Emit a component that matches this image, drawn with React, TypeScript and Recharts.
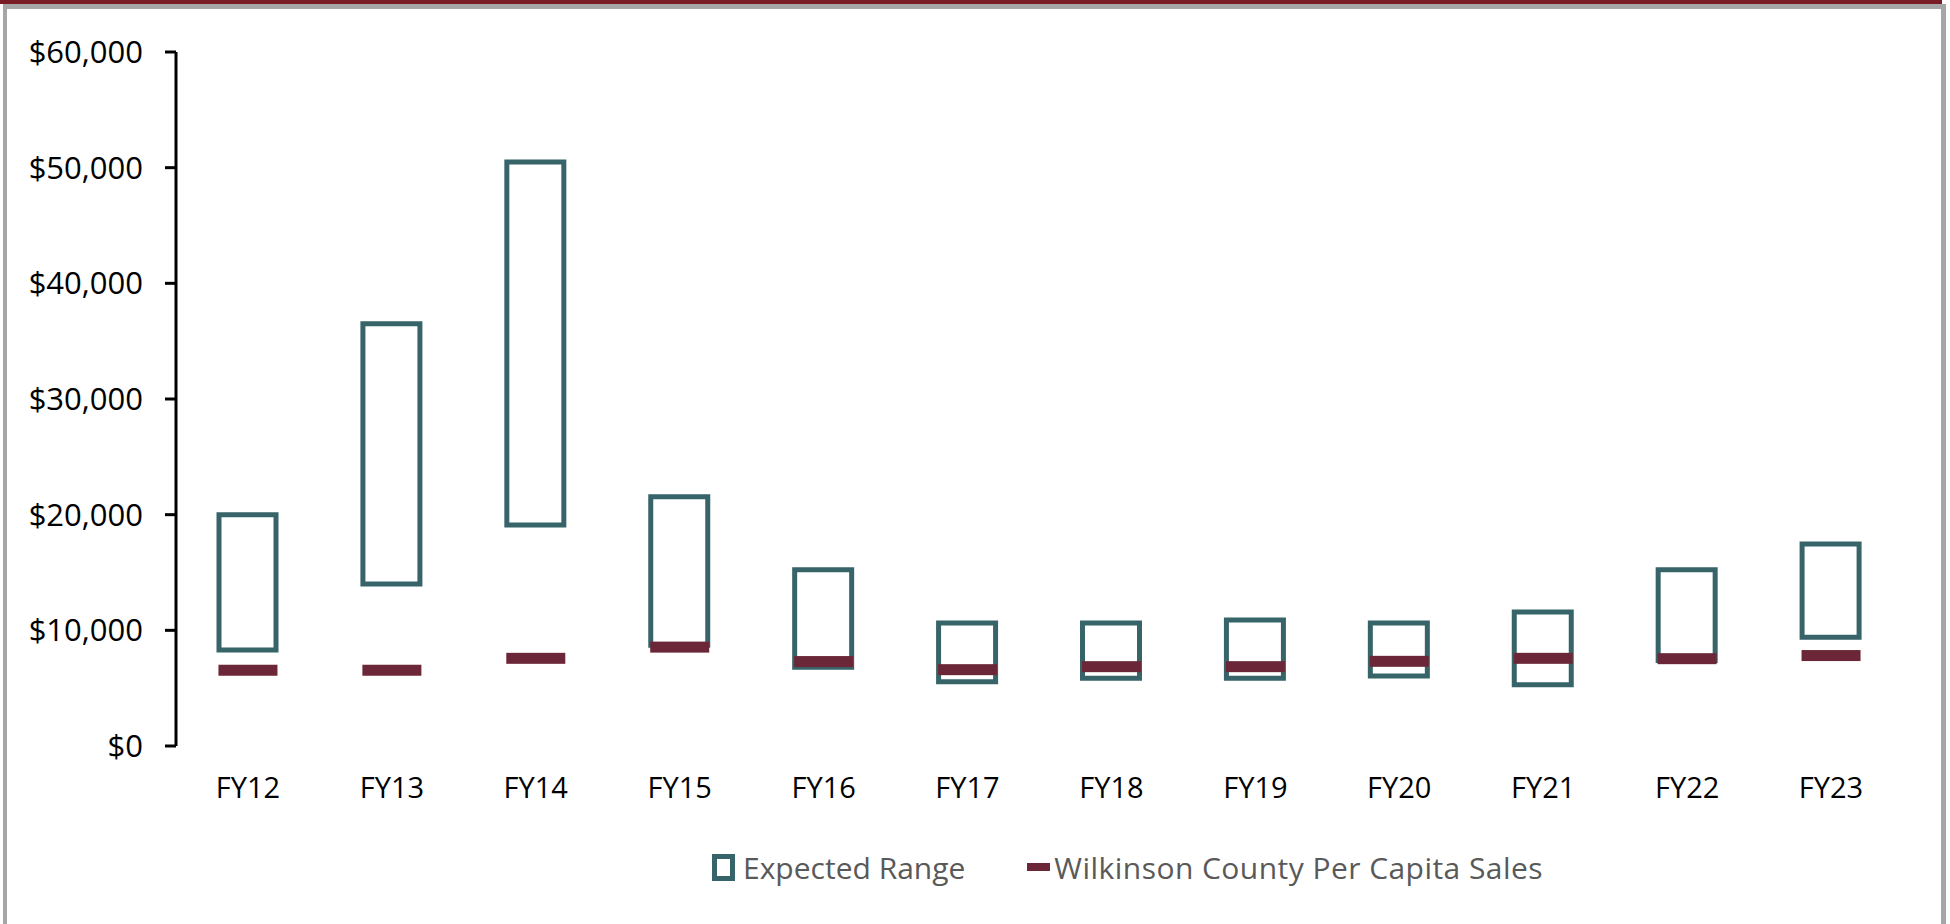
import React from 'react'
import { Bar, ComposedChart, Legend, Scatter, XAxis, YAxis } from 'recharts'

// fiscal years on the x axis
const categories = ['FY12', 'FY13', 'FY14', 'FY15', 'FY16', 'FY17', 'FY18', 'FY19', 'FY20', 'FY21', 'FY22', 'FY23']

// expected range (low / high) per year
const rangeLow = [8300, 14000, 19100, 8700, 6800, 5560, 5850, 5850, 6050, 5300, 7400, 9400]
const rangeHigh = [20000, 36500, 50500, 21550, 15240, 10630, 10630, 10890, 10630, 11580, 15240, 17470]

// county per capita sales
const countySales = [6550, 6550, 7580, 8550, 7300, 6600, 6860, 6860, 7320, 7580, 7550, 7820]

const yTicks = [0, 10000, 20000, 30000, 40000, 50000, 60000]

const rangeName = 'Expected Range'
const countyName = 'Wilkinson County Per Capita Sales'

const TEAL = '#376469'
const MAROON = '#6b2737'
const FONT = '"Open Sans", sans-serif'

const data = categories.map((name, i) => ({
  name,
  range: [rangeLow[i], rangeHigh[i]],
  county: countySales[i],
}))

const Dash = (props: any) => {
  const { cx, cy } = props
  if (cx == null || cy == null) return null
  return <rect x={cx - 29.5} y={cy - 5.5} width={59} height={11} fill={MAROON} />
}

const LegendContent = () => (
  <div
    style={{
      display: 'flex',
      alignItems: 'center',
      height: 40,
      fontFamily: FONT,
      fontSize: 30,
      color: '#595959',
      whiteSpace: 'nowrap',
    }}
  >
    <span
      style={{
        display: 'inline-block',
        width: 13,
        height: 17,
        border: `5px solid ${TEAL}`,
        background: '#fff',
        marginRight: 8,
      }}
    />
    <span style={{ marginRight: 62 }}>{rangeName}</span>
    <span style={{ display: 'inline-block', width: 23, height: 8, background: MAROON, marginRight: 4 }} />
    <span style={{ letterSpacing: 0.45 }}>{countyName}</span>
  </div>
)

const App: React.FC = () => {
  return (
    <div style={{ position: 'absolute', left: 0, top: 0, width: 1950, height: 924, background: '#fff', overflow: 'hidden' }}>
      <div style={{ position: 'absolute', left: 0, top: 0, width: 1942, height: 4, background: '#7a1c28' }} />
      <div
        style={{
          position: 'absolute',
          left: 3,
          top: 4,
          width: 1943,
          height: 930,
          boxSizing: 'border-box',
          borderTop: '5px solid #a6a6a6',
          borderLeft: '4px solid #a6a6a6',
          borderRight: '5px solid #a6a6a6',
        }}
      />
      <div style={{ position: 'absolute', left: 0, top: 0 }}>
        <ComposedChart width={1950} height={924} data={data} margin={{ top: 52, right: 47, left: 6, bottom: 118 }}>
          <XAxis
            dataKey='name'
            height={60}
            axisLine={false}
            tickLine={false}
            tickSize={0}
            tickMargin={31}
            tick={{ fontFamily: FONT, fontSize: 29, fill: '#000' }}
            interval={0}
          />
          <YAxis
            width={170}
            domain={[0, 60000]}
            ticks={yTicks}
            tickFormatter={(v) => `$${Number(v).toLocaleString('en-US')}`}
            axisLine={{ stroke: '#000', strokeWidth: 3 }}
            tickLine={{ stroke: '#000', strokeWidth: 3 }}
            tickSize={11}
            tickMargin={22}
            tick={{ fontFamily: FONT, fontSize: 31, fill: '#000' }}
          />
          <Bar
            dataKey='range'
            name={rangeName}
            barSize={57}
            fill='none'
            stroke={TEAL}
            strokeWidth={5}
            isAnimationActive={false}
          />
          <Scatter dataKey='county' name={countyName} shape={Dash} isAnimationActive={false} />
          <Legend
            layout='horizontal'
            verticalAlign='middle'
            align='center'
            content={() => <LegendContent />}
            wrapperStyle={{ position: 'absolute', left: 712, top: 847, width: 'auto' }}
          />
        </ComposedChart>
      </div>
    </div>
  )
}

export default App
